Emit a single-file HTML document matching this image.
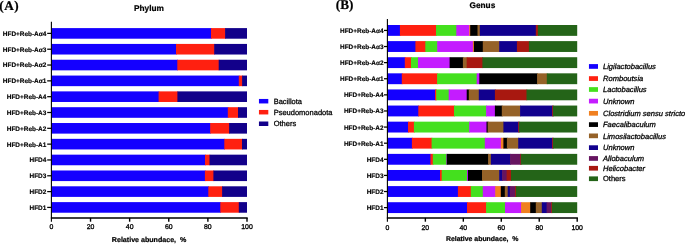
<!DOCTYPE html>
<html><head><meta charset="utf-8"><style>
html,body{margin:0;padding:0;background:#fff;}
body{width:685px;height:244px;overflow:hidden;}
svg{display:block;will-change:transform;}
text{font-family:"Liberation Sans",sans-serif;fill:#000;stroke:#000;stroke-width:0.22px;text-rendering:geometricPrecision;}
.yl{font-size:6.45px;font-weight:bold;letter-spacing:0px;stroke-width:0.15px;}
.tk{font-size:6.9px;stroke-width:0.3px;}
.xt{font-size:7.1px;font-weight:bold;}
.xt2{font-size:6.92px;font-weight:bold;}
.tt{font-size:8.3px;font-weight:bold;}
.pl{font-family:"Liberation Serif",serif;font-size:13.2px;font-weight:bold;}
.lg{font-size:7.5px;stroke-width:0.28px;}
.lgi{font-size:7.55px;font-style:italic;stroke-width:0.28px;}
</style></head><body>
<svg width="685" height="244" viewBox="0 0 685 244" >
<rect x="51.40" y="28.10" width="160.30" height="10.60" fill="#1400ff"/>
<rect x="211.00" y="28.10" width="14.80" height="10.60" fill="#ff2010"/>
<rect x="225.10" y="28.10" width="21.90" height="10.60" fill="#12008a"/>
<rect x="51.40" y="43.92" width="125.30" height="10.60" fill="#1400ff"/>
<rect x="176.00" y="43.92" width="38.90" height="10.60" fill="#ff2010"/>
<rect x="214.20" y="43.92" width="32.80" height="10.60" fill="#12008a"/>
<rect x="51.40" y="59.74" width="126.60" height="10.60" fill="#1400ff"/>
<rect x="177.30" y="59.74" width="42.10" height="10.60" fill="#ff2010"/>
<rect x="218.70" y="59.74" width="28.30" height="10.60" fill="#12008a"/>
<rect x="51.40" y="75.56" width="188.10" height="10.60" fill="#1400ff"/>
<rect x="238.80" y="75.56" width="4.00" height="10.60" fill="#ff2010"/>
<rect x="242.10" y="75.56" width="4.90" height="10.60" fill="#12008a"/>
<rect x="51.40" y="91.38" width="107.90" height="10.60" fill="#1400ff"/>
<rect x="158.60" y="91.38" width="19.50" height="10.60" fill="#ff2010"/>
<rect x="177.40" y="91.38" width="69.60" height="10.60" fill="#12008a"/>
<rect x="51.40" y="107.20" width="177.10" height="10.60" fill="#1400ff"/>
<rect x="227.80" y="107.20" width="10.90" height="10.60" fill="#ff2010"/>
<rect x="238.00" y="107.20" width="9.00" height="10.60" fill="#12008a"/>
<rect x="51.40" y="123.02" width="159.50" height="10.60" fill="#1400ff"/>
<rect x="210.20" y="123.02" width="19.60" height="10.60" fill="#ff2010"/>
<rect x="229.10" y="123.02" width="17.90" height="10.60" fill="#12008a"/>
<rect x="51.40" y="138.84" width="173.60" height="10.60" fill="#1400ff"/>
<rect x="224.30" y="138.84" width="18.40" height="10.60" fill="#ff2010"/>
<rect x="242.00" y="138.84" width="5.00" height="10.60" fill="#12008a"/>
<rect x="51.40" y="154.66" width="154.30" height="10.60" fill="#1400ff"/>
<rect x="205.00" y="154.66" width="5.20" height="10.60" fill="#ff2010"/>
<rect x="209.50" y="154.66" width="37.50" height="10.60" fill="#12008a"/>
<rect x="51.40" y="170.48" width="154.20" height="10.60" fill="#1400ff"/>
<rect x="204.90" y="170.48" width="9.20" height="10.60" fill="#ff2010"/>
<rect x="213.40" y="170.48" width="33.60" height="10.60" fill="#12008a"/>
<rect x="51.40" y="186.30" width="157.60" height="10.60" fill="#1400ff"/>
<rect x="208.30" y="186.30" width="14.50" height="10.60" fill="#ff2010"/>
<rect x="222.10" y="186.30" width="24.90" height="10.60" fill="#12008a"/>
<rect x="51.40" y="202.12" width="169.60" height="10.60" fill="#1400ff"/>
<rect x="220.30" y="202.12" width="19.20" height="10.60" fill="#ff2010"/>
<rect x="238.80" y="202.12" width="8.20" height="10.60" fill="#12008a"/>
<rect x="387.40" y="25.00" width="13.20" height="10.85" fill="#1400ff"/>
<rect x="399.90" y="25.00" width="36.80" height="10.85" fill="#ff2010"/>
<rect x="436.00" y="25.00" width="21.00" height="10.85" fill="#44e01e"/>
<rect x="456.30" y="25.00" width="13.60" height="10.85" fill="#c41cff"/>
<rect x="469.20" y="25.00" width="1.70" height="10.85" fill="#f08020"/>
<rect x="470.20" y="25.00" width="8.00" height="10.85" fill="#000000"/>
<rect x="477.50" y="25.00" width="3.00" height="10.85" fill="#956228"/>
<rect x="479.80" y="25.00" width="56.70" height="10.85" fill="#11008e"/>
<rect x="535.80" y="25.00" width="2.80" height="10.85" fill="#a81810"/>
<rect x="537.90" y="25.00" width="39.30" height="10.85" fill="#246418"/>
<rect x="387.40" y="41.11" width="28.70" height="10.85" fill="#1400ff"/>
<rect x="415.40" y="41.11" width="10.60" height="10.85" fill="#ff2010"/>
<rect x="425.30" y="41.11" width="12.60" height="10.85" fill="#44e01e"/>
<rect x="437.20" y="41.11" width="36.40" height="10.85" fill="#c41cff"/>
<rect x="472.90" y="41.11" width="1.70" height="10.85" fill="#f08020"/>
<rect x="473.90" y="41.11" width="9.60" height="10.85" fill="#000000"/>
<rect x="482.80" y="41.11" width="17.10" height="10.85" fill="#956228"/>
<rect x="499.20" y="41.11" width="18.40" height="10.85" fill="#11008e"/>
<rect x="516.90" y="41.11" width="12.70" height="10.85" fill="#a81810"/>
<rect x="528.90" y="41.11" width="48.30" height="10.85" fill="#246418"/>
<rect x="387.40" y="57.22" width="18.10" height="10.85" fill="#1400ff"/>
<rect x="404.80" y="57.22" width="6.90" height="10.85" fill="#ff2010"/>
<rect x="411.00" y="57.22" width="7.70" height="10.85" fill="#44e01e"/>
<rect x="418.00" y="57.22" width="32.30" height="10.85" fill="#c41cff"/>
<rect x="449.60" y="57.22" width="14.00" height="10.85" fill="#000000"/>
<rect x="462.90" y="57.22" width="4.50" height="10.85" fill="#956228"/>
<rect x="466.70" y="57.22" width="16.40" height="10.85" fill="#a81810"/>
<rect x="482.40" y="57.22" width="94.80" height="10.85" fill="#246418"/>
<rect x="387.40" y="73.33" width="15.10" height="10.85" fill="#1400ff"/>
<rect x="401.80" y="73.33" width="36.00" height="10.85" fill="#ff2010"/>
<rect x="437.10" y="73.33" width="40.30" height="10.85" fill="#44e01e"/>
<rect x="476.70" y="73.33" width="3.30" height="10.85" fill="#c41cff"/>
<rect x="479.30" y="73.33" width="58.50" height="10.85" fill="#000000"/>
<rect x="537.10" y="73.33" width="10.40" height="10.85" fill="#956228"/>
<rect x="546.80" y="73.33" width="30.40" height="10.85" fill="#246418"/>
<rect x="387.40" y="89.44" width="48.30" height="10.85" fill="#1400ff"/>
<rect x="435.00" y="89.44" width="1.90" height="10.85" fill="#ff2010"/>
<rect x="436.20" y="89.44" width="13.20" height="10.85" fill="#44e01e"/>
<rect x="448.70" y="89.44" width="18.70" height="10.85" fill="#c41cff"/>
<rect x="466.70" y="89.44" width="2.80" height="10.85" fill="#000000"/>
<rect x="468.80" y="89.44" width="10.70" height="10.85" fill="#956228"/>
<rect x="478.80" y="89.44" width="16.80" height="10.85" fill="#11008e"/>
<rect x="494.90" y="89.44" width="32.30" height="10.85" fill="#a81810"/>
<rect x="526.50" y="89.44" width="50.70" height="10.85" fill="#246418"/>
<rect x="387.40" y="105.55" width="31.60" height="10.85" fill="#1400ff"/>
<rect x="418.30" y="105.55" width="36.40" height="10.85" fill="#ff2010"/>
<rect x="454.00" y="105.55" width="32.80" height="10.85" fill="#44e01e"/>
<rect x="486.10" y="105.55" width="9.50" height="10.85" fill="#c41cff"/>
<rect x="494.90" y="105.55" width="7.60" height="10.85" fill="#000000"/>
<rect x="501.80" y="105.55" width="19.00" height="10.85" fill="#956228"/>
<rect x="520.10" y="105.55" width="32.80" height="10.85" fill="#11008e"/>
<rect x="552.20" y="105.55" width="1.50" height="10.85" fill="#a81810"/>
<rect x="553.00" y="105.55" width="24.20" height="10.85" fill="#246418"/>
<rect x="387.40" y="121.66" width="21.30" height="10.85" fill="#1400ff"/>
<rect x="408.00" y="121.66" width="6.60" height="10.85" fill="#ff2010"/>
<rect x="413.90" y="121.66" width="56.00" height="10.85" fill="#44e01e"/>
<rect x="469.20" y="121.66" width="18.00" height="10.85" fill="#c41cff"/>
<rect x="486.50" y="121.66" width="1.90" height="10.85" fill="#000000"/>
<rect x="487.70" y="121.66" width="16.40" height="10.85" fill="#956228"/>
<rect x="503.40" y="121.66" width="15.50" height="10.85" fill="#11008e"/>
<rect x="518.20" y="121.66" width="1.50" height="10.85" fill="#a81810"/>
<rect x="519.00" y="121.66" width="58.20" height="10.85" fill="#246418"/>
<rect x="387.40" y="137.77" width="25.20" height="10.85" fill="#1400ff"/>
<rect x="411.90" y="137.77" width="20.40" height="10.85" fill="#ff2010"/>
<rect x="431.60" y="137.77" width="53.90" height="10.85" fill="#44e01e"/>
<rect x="484.80" y="137.77" width="16.70" height="10.85" fill="#c41cff"/>
<rect x="500.80" y="137.77" width="3.30" height="10.85" fill="#f08020"/>
<rect x="503.40" y="137.77" width="4.20" height="10.85" fill="#000000"/>
<rect x="506.90" y="137.77" width="12.00" height="10.85" fill="#956228"/>
<rect x="518.20" y="137.77" width="34.70" height="10.85" fill="#11008e"/>
<rect x="552.20" y="137.77" width="1.50" height="10.85" fill="#a81810"/>
<rect x="553.00" y="137.77" width="24.20" height="10.85" fill="#246418"/>
<rect x="387.40" y="153.88" width="43.70" height="10.85" fill="#1400ff"/>
<rect x="430.40" y="153.88" width="3.10" height="10.85" fill="#ff2010"/>
<rect x="432.80" y="153.88" width="14.30" height="10.85" fill="#44e01e"/>
<rect x="446.40" y="153.88" width="1.10" height="10.85" fill="#c41cff"/>
<rect x="446.80" y="153.88" width="42.00" height="10.85" fill="#000000"/>
<rect x="488.10" y="153.88" width="3.50" height="10.85" fill="#956228"/>
<rect x="490.90" y="153.88" width="19.90" height="10.85" fill="#11008e"/>
<rect x="510.10" y="153.88" width="10.90" height="10.85" fill="#661460"/>
<rect x="520.30" y="153.88" width="1.30" height="10.85" fill="#a81810"/>
<rect x="520.90" y="153.88" width="56.30" height="10.85" fill="#246418"/>
<rect x="387.40" y="169.99" width="53.30" height="10.85" fill="#1400ff"/>
<rect x="440.00" y="169.99" width="2.40" height="10.85" fill="#ff2010"/>
<rect x="441.70" y="169.99" width="26.00" height="10.85" fill="#44e01e"/>
<rect x="467.00" y="169.99" width="1.60" height="10.85" fill="#c41cff"/>
<rect x="467.90" y="169.99" width="14.80" height="10.85" fill="#000000"/>
<rect x="482.00" y="169.99" width="17.90" height="10.85" fill="#956228"/>
<rect x="499.20" y="169.99" width="3.60" height="10.85" fill="#11008e"/>
<rect x="502.10" y="169.99" width="5.20" height="10.85" fill="#661460"/>
<rect x="506.60" y="169.99" width="5.10" height="10.85" fill="#a81810"/>
<rect x="511.00" y="169.99" width="66.20" height="10.85" fill="#246418"/>
<rect x="387.40" y="186.10" width="71.20" height="10.85" fill="#1400ff"/>
<rect x="457.90" y="186.10" width="13.60" height="10.85" fill="#ff2010"/>
<rect x="470.80" y="186.10" width="12.70" height="10.85" fill="#44e01e"/>
<rect x="482.80" y="186.10" width="13.10" height="10.85" fill="#c41cff"/>
<rect x="495.20" y="186.10" width="6.30" height="10.85" fill="#f08020"/>
<rect x="500.80" y="186.10" width="4.70" height="10.85" fill="#000000"/>
<rect x="504.80" y="186.10" width="3.60" height="10.85" fill="#956228"/>
<rect x="507.70" y="186.10" width="2.80" height="10.85" fill="#11008e"/>
<rect x="509.80" y="186.10" width="5.90" height="10.85" fill="#661460"/>
<rect x="515.00" y="186.10" width="1.60" height="10.85" fill="#a81810"/>
<rect x="515.90" y="186.10" width="61.30" height="10.85" fill="#246418"/>
<rect x="387.40" y="202.21" width="80.30" height="10.85" fill="#1400ff"/>
<rect x="467.00" y="202.21" width="19.80" height="10.85" fill="#ff2010"/>
<rect x="486.10" y="202.21" width="19.60" height="10.85" fill="#44e01e"/>
<rect x="505.00" y="202.21" width="16.80" height="10.85" fill="#c41cff"/>
<rect x="521.10" y="202.21" width="9.80" height="10.85" fill="#f08020"/>
<rect x="530.20" y="202.21" width="6.30" height="10.85" fill="#000000"/>
<rect x="535.80" y="202.21" width="6.70" height="10.85" fill="#956228"/>
<rect x="541.80" y="202.21" width="5.50" height="10.85" fill="#11008e"/>
<rect x="546.60" y="202.21" width="5.20" height="10.85" fill="#661460"/>
<rect x="551.10" y="202.21" width="1.50" height="10.85" fill="#a81810"/>
<rect x="551.90" y="202.21" width="25.30" height="10.85" fill="#246418"/>
<line x1="51.40" y1="21.80" x2="51.40" y2="221.70" stroke="#000" stroke-width="1.1"/>
<line x1="50.85" y1="217.90" x2="247.70" y2="217.90" stroke="#000" stroke-width="1.5"/>
<line x1="90.52" y1="217.90" x2="90.52" y2="221.70" stroke="#000" stroke-width="1.4"/>
<line x1="129.64" y1="217.90" x2="129.64" y2="221.70" stroke="#000" stroke-width="1.4"/>
<line x1="168.76" y1="217.90" x2="168.76" y2="221.70" stroke="#000" stroke-width="1.4"/>
<line x1="207.88" y1="217.90" x2="207.88" y2="221.70" stroke="#000" stroke-width="1.4"/>
<line x1="247.00" y1="217.90" x2="247.00" y2="221.70" stroke="#000" stroke-width="1.4"/>
<text x="51.40" y="229.00" class="tk" text-anchor="middle">0</text>
<text x="90.52" y="229.00" class="tk" text-anchor="middle">20</text>
<text x="129.64" y="229.00" class="tk" text-anchor="middle">40</text>
<text x="168.76" y="229.00" class="tk" text-anchor="middle">60</text>
<text x="207.88" y="229.00" class="tk" text-anchor="middle">80</text>
<text x="247.00" y="229.00" class="tk" text-anchor="middle">100</text>
<line x1="47.20" y1="33.40" x2="51.40" y2="33.40" stroke="#000" stroke-width="1.25"/>
<text x="46.30" y="35.85" class="yl" text-anchor="end">HFD+Reb-Aα4</text>
<line x1="47.20" y1="49.22" x2="51.40" y2="49.22" stroke="#000" stroke-width="1.25"/>
<text x="46.30" y="51.67" class="yl" text-anchor="end">HFD+Reb-Aα3</text>
<line x1="47.20" y1="65.04" x2="51.40" y2="65.04" stroke="#000" stroke-width="1.25"/>
<text x="46.30" y="67.49" class="yl" text-anchor="end">HFD+Reb-Aα2</text>
<line x1="47.20" y1="80.86" x2="51.40" y2="80.86" stroke="#000" stroke-width="1.25"/>
<text x="46.30" y="83.31" class="yl" text-anchor="end">HFD+Reb-Aα1</text>
<line x1="47.20" y1="96.68" x2="51.40" y2="96.68" stroke="#000" stroke-width="1.25"/>
<text x="46.30" y="99.13" class="yl" text-anchor="end">HFD+Reb-A4</text>
<line x1="47.20" y1="112.50" x2="51.40" y2="112.50" stroke="#000" stroke-width="1.25"/>
<text x="46.30" y="114.95" class="yl" text-anchor="end">HFD+Reb-A3</text>
<line x1="47.20" y1="128.32" x2="51.40" y2="128.32" stroke="#000" stroke-width="1.25"/>
<text x="46.30" y="130.77" class="yl" text-anchor="end">HFD+Reb-A2</text>
<line x1="47.20" y1="144.14" x2="51.40" y2="144.14" stroke="#000" stroke-width="1.25"/>
<text x="46.30" y="146.59" class="yl" text-anchor="end">HFD+Reb-A1</text>
<line x1="47.20" y1="159.96" x2="51.40" y2="159.96" stroke="#000" stroke-width="1.25"/>
<text x="46.30" y="162.41" class="yl" text-anchor="end">HFD4</text>
<line x1="47.20" y1="175.78" x2="51.40" y2="175.78" stroke="#000" stroke-width="1.25"/>
<text x="46.30" y="178.23" class="yl" text-anchor="end">HFD3</text>
<line x1="47.20" y1="191.60" x2="51.40" y2="191.60" stroke="#000" stroke-width="1.25"/>
<text x="46.30" y="194.05" class="yl" text-anchor="end">HFD2</text>
<line x1="47.20" y1="207.42" x2="51.40" y2="207.42" stroke="#000" stroke-width="1.25"/>
<text x="46.30" y="209.87" class="yl" text-anchor="end">HFD1</text>
<line x1="387.40" y1="18.90" x2="387.40" y2="221.70" stroke="#000" stroke-width="1.1"/>
<line x1="386.85" y1="217.90" x2="577.90" y2="217.90" stroke="#000" stroke-width="1.5"/>
<line x1="425.36" y1="217.90" x2="425.36" y2="221.70" stroke="#000" stroke-width="1.4"/>
<line x1="463.32" y1="217.90" x2="463.32" y2="221.70" stroke="#000" stroke-width="1.4"/>
<line x1="501.28" y1="217.90" x2="501.28" y2="221.70" stroke="#000" stroke-width="1.4"/>
<line x1="539.24" y1="217.90" x2="539.24" y2="221.70" stroke="#000" stroke-width="1.4"/>
<line x1="577.20" y1="217.90" x2="577.20" y2="221.70" stroke="#000" stroke-width="1.4"/>
<text x="387.40" y="229.60" class="tk" text-anchor="middle">0</text>
<text x="425.36" y="229.60" class="tk" text-anchor="middle">20</text>
<text x="463.32" y="229.60" class="tk" text-anchor="middle">40</text>
<text x="501.28" y="229.60" class="tk" text-anchor="middle">60</text>
<text x="539.24" y="229.60" class="tk" text-anchor="middle">80</text>
<text x="577.20" y="229.60" class="tk" text-anchor="middle">100</text>
<line x1="384.00" y1="30.43" x2="387.40" y2="30.43" stroke="#000" stroke-width="1.25"/>
<text x="383.50" y="32.88" class="yl" text-anchor="end">HFD+Reb-Aα4</text>
<line x1="384.00" y1="46.53" x2="387.40" y2="46.53" stroke="#000" stroke-width="1.25"/>
<text x="383.50" y="48.98" class="yl" text-anchor="end">HFD+Reb-Aα3</text>
<line x1="384.00" y1="62.64" x2="387.40" y2="62.64" stroke="#000" stroke-width="1.25"/>
<text x="383.50" y="65.09" class="yl" text-anchor="end">HFD+Reb-Aα2</text>
<line x1="384.00" y1="78.75" x2="387.40" y2="78.75" stroke="#000" stroke-width="1.25"/>
<text x="383.50" y="81.20" class="yl" text-anchor="end">HFD+Reb-Aα1</text>
<line x1="384.00" y1="94.86" x2="387.40" y2="94.86" stroke="#000" stroke-width="1.25"/>
<text x="383.50" y="97.31" class="yl" text-anchor="end">HFD+Reb-A4</text>
<line x1="384.00" y1="110.97" x2="387.40" y2="110.97" stroke="#000" stroke-width="1.25"/>
<text x="383.50" y="113.42" class="yl" text-anchor="end">HFD+Reb-A3</text>
<line x1="384.00" y1="127.08" x2="387.40" y2="127.08" stroke="#000" stroke-width="1.25"/>
<text x="383.50" y="129.53" class="yl" text-anchor="end">HFD+Reb-A2</text>
<line x1="384.00" y1="143.19" x2="387.40" y2="143.19" stroke="#000" stroke-width="1.25"/>
<text x="383.50" y="145.64" class="yl" text-anchor="end">HFD+Reb-A1</text>
<line x1="384.00" y1="159.31" x2="387.40" y2="159.31" stroke="#000" stroke-width="1.25"/>
<text x="383.50" y="161.75" class="yl" text-anchor="end">HFD4</text>
<line x1="384.00" y1="175.42" x2="387.40" y2="175.42" stroke="#000" stroke-width="1.25"/>
<text x="383.50" y="177.87" class="yl" text-anchor="end">HFD3</text>
<line x1="384.00" y1="191.53" x2="387.40" y2="191.53" stroke="#000" stroke-width="1.25"/>
<text x="383.50" y="193.97" class="yl" text-anchor="end">HFD2</text>
<line x1="384.00" y1="207.63" x2="387.40" y2="207.63" stroke="#000" stroke-width="1.25"/>
<text x="383.50" y="210.08" class="yl" text-anchor="end">HFD1</text>
<text x="149.10" y="242.20" class="xt" text-anchor="middle">Relative abundace,&#160; %</text>
<text x="482.20" y="241.10" class="xt2" text-anchor="middle">Relative abundace,&#160; %</text>
<text x="149.00" y="11.00" class="tt" text-anchor="middle">Phylum</text>
<text x="482.40" y="8.20" class="tt" text-anchor="middle">Genus</text>
<text x="-0.70" y="9.70" class="pl" text-anchor="start">(<tspan dx="0.6">A</tspan><tspan dx="0.4">)</tspan></text>
<text x="335.80" y="8.60" class="pl" text-anchor="start">(B)</text>
<rect x="258.95" y="98.95" width="9.35" height="4.50" fill="#1400ff"/>
<text x="273.70" y="103.70" class="lg" text-anchor="start">Bacillota</text>
<rect x="258.95" y="109.95" width="9.35" height="4.50" fill="#ff2010"/>
<text x="273.70" y="114.70" class="lg" text-anchor="start">Pseudomonadota</text>
<rect x="258.95" y="121.50" width="9.35" height="4.50" fill="#12008a"/>
<text x="273.70" y="126.25" class="lg" text-anchor="start">Others</text>
<rect x="588.95" y="64.10" width="9.05" height="4.70" fill="#1400ff"/>
<text x="603.00" y="69.10" class="lgi" text-anchor="start">Ligilactobacillus</text>
<rect x="588.95" y="76.20" width="9.05" height="4.70" fill="#ff2010"/>
<text x="603.00" y="81.20" class="lgi" text-anchor="start">Romboutsia</text>
<rect x="588.95" y="87.15" width="9.05" height="4.70" fill="#44e01e"/>
<text x="603.00" y="92.15" class="lgi" text-anchor="start">Lactobacillus</text>
<rect x="588.95" y="98.75" width="9.05" height="4.70" fill="#c41cff"/>
<text x="603.00" y="103.75" class="lgi" text-anchor="start">Unknown</text>
<rect x="588.95" y="110.95" width="9.05" height="4.70" fill="#f08020"/>
<text x="603.00" y="115.95" class="lgi" text-anchor="start">Clostridium sensu stricto</text>
<rect x="588.95" y="122.25" width="9.05" height="4.70" fill="#000000"/>
<text x="603.00" y="127.25" class="lgi" text-anchor="start">Faecalibaculum</text>
<rect x="588.95" y="133.50" width="9.05" height="4.70" fill="#956228"/>
<text x="603.00" y="138.50" class="lgi" text-anchor="start">Limosilactobacillus</text>
<rect x="588.95" y="145.30" width="9.05" height="4.70" fill="#11008e"/>
<text x="603.00" y="150.30" class="lgi" text-anchor="start">Unknown</text>
<rect x="588.95" y="156.10" width="9.05" height="4.70" fill="#661460"/>
<text x="603.00" y="161.10" class="lgi" text-anchor="start">Allobaculum</text>
<rect x="588.95" y="165.90" width="9.05" height="4.70" fill="#a81810"/>
<text x="603.00" y="170.90" class="lgi" text-anchor="start">Helicobacter</text>
<rect x="588.95" y="176.40" width="9.05" height="4.70" fill="#246418"/>
<text x="603.00" y="181.40" class="lg" text-anchor="start">Others</text>
</svg>
</body></html>
